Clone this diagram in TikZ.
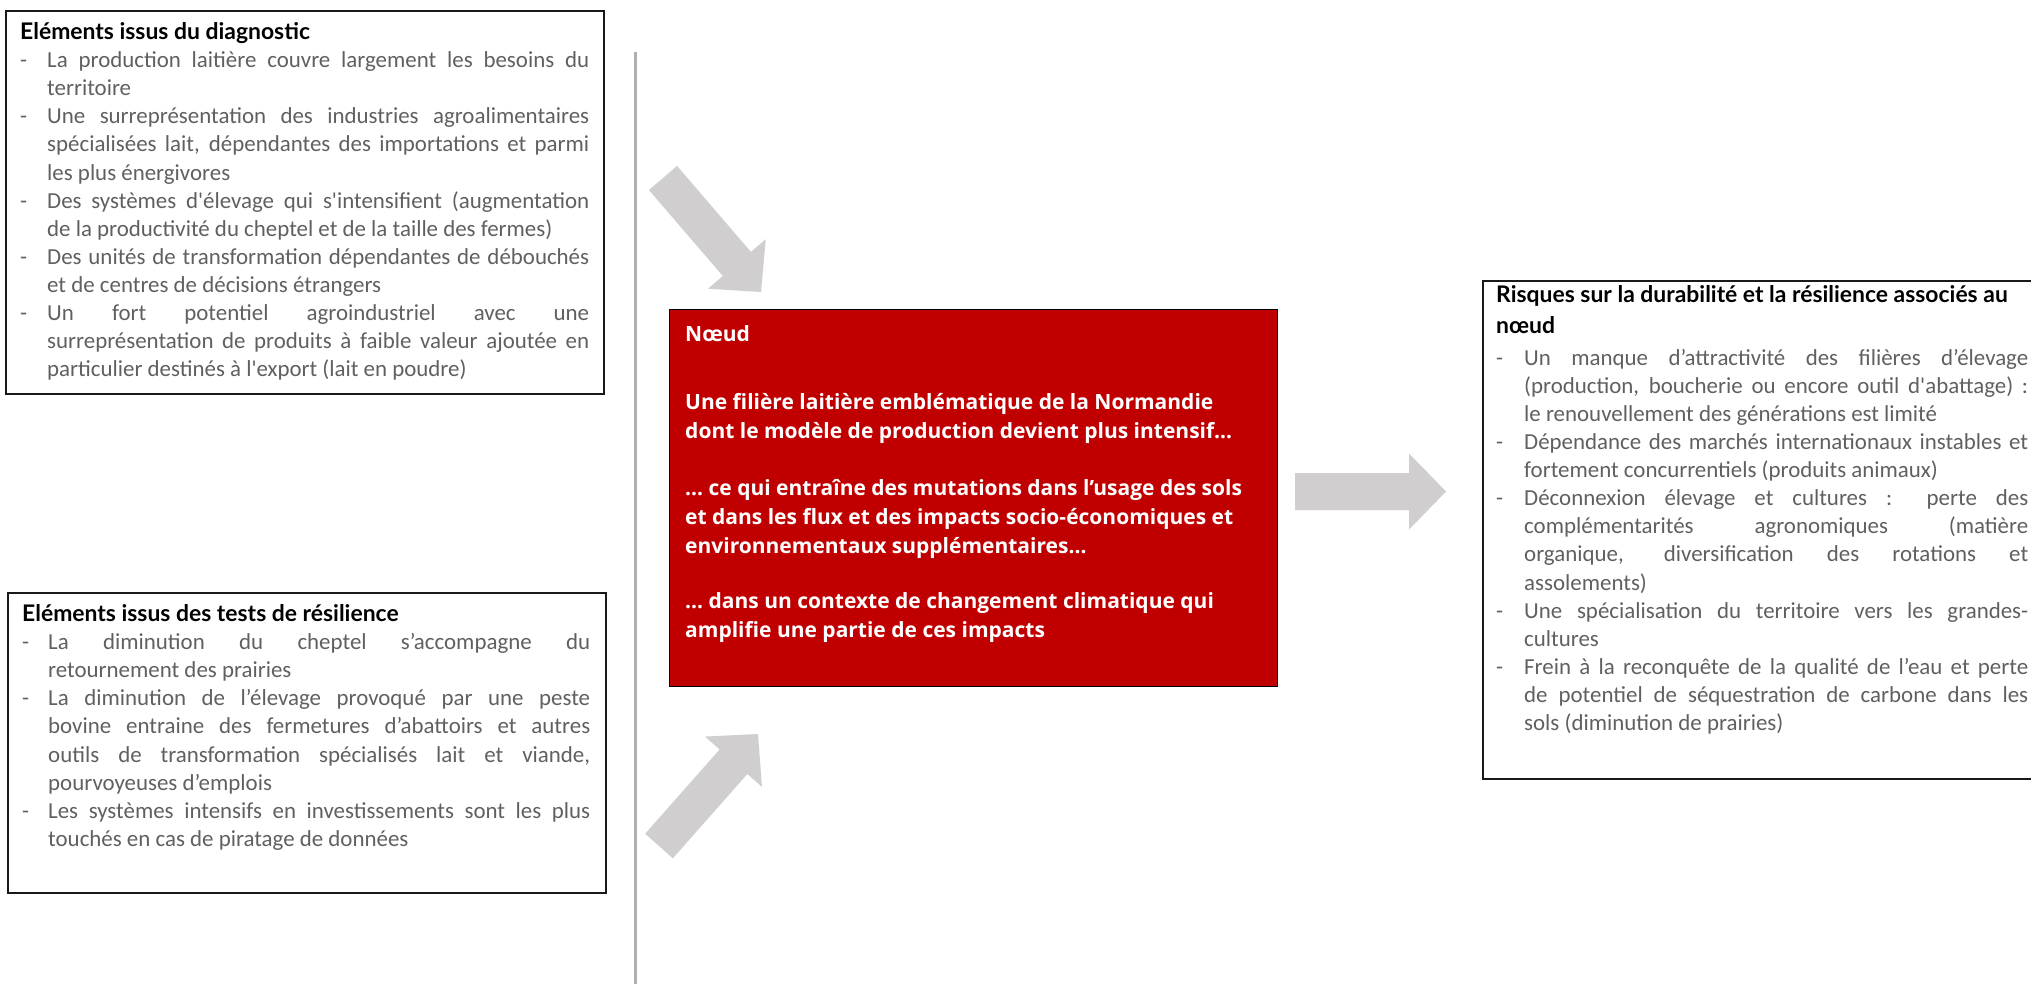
\documentclass[tikz,border=0pt]{standalone}
\usepackage{fontspec}
\usetikzlibrary{calc}

% Fonts: light body text, bold headings, bold white text on the red node
\newfontfamily\bodyfont{Carlito}
\newfontfamily\headfont{Lato}
\newfontfamily\redfont{Open Sans}

\definecolor{bodygray}{RGB}{96,96,96}
\definecolor{arrowgray}{RGB}{208,206,206}
\definecolor{linegray}{RGB}{175,175,175}
\definecolor{noeudred}{RGB}{192,0,0}
\definecolor{framecol}{RGB}{25,25,25}

% Line builders for the bulleted lists (justified or ragged lines)
\newlength\lw
\newlength\hangw
\newcommand\headline[1]{\hbox{\headfont\bfseries\color{black}#1}}
\newcommand\itemJ[1]{\hbox to\lw{\hbox to\hangw{-\hfil}#1}}
\newcommand\itemR[1]{\hbox{\hbox to\hangw{-\hfil}#1}}
\newcommand\contJ[1]{\hbox to\lw{\hskip\hangw #1}}
\newcommand\contR[1]{\hbox{\hskip\hangw #1}}
\newcommand\redline[1]{\hbox{#1}}

% Wide grey block arrow: name, tail centre, tip
\newcommand\blockarrow[3]{%
  \coordinate (#1-base) at ($(#3)!37pt!(#2)$);
  \fill[arrowgray]
    ($(#2)!18.5pt!90:(#3)$) -- ($(#1-base)!18.5pt!90:(#3)$) --
    ($(#1-base)!38pt!90:(#3)$) -- (#3) --
    ($(#1-base)!38pt!-90:(#3)$) -- ($(#1-base)!18.5pt!-90:(#3)$) --
    ($(#2)!18.5pt!-90:(#3)$) -- cycle;}

\begin{document}
\begin{tikzpicture}[x=1pt,y=-1pt,
  framebox/.style={draw=framecol, line width=1.6pt, inner sep=0pt, anchor=north west, fill=white},
  redbox/.style={draw=black, line width=1.4pt, fill=noeudred, inner sep=0pt, anchor=north west},
  textblock/.style={anchor=base west, inner sep=0pt, text=bodygray},
  redtext/.style={anchor=base west, inner sep=0pt, text=white},
  sepline/.style={draw=linegray, line width=3pt}]

\useasboundingbox[fill=white] (0,0) rectangle (2031,983);

% separator line
\coordinate (septop) at (635,52);
\coordinate (sepbot) at (635,990);
\draw[sepline] (septop) -- (sepbot);

% frames
\node[framebox, minimum width=598pt, minimum height=383pt] (diag) at (5,10) {};
\node[framebox, minimum width=598pt, minimum height=300pt] (tests) at (7,592) {};
\node[redbox, minimum width=608pt, minimum height=377pt] (noeud) at (669,309) {};
\node[framebox, minimum width=570pt, minimum height=498pt] (risks) at (1482,280) {};

% diagnostic
\node[textblock] (diagtxt) at (20,39.5) {\vtop{\bodyfont\fontsize{22.9}{28.1}\selectfont
  \lw=569pt \hangw=27pt
  \headline{Eléments issus du diagnostic}
  \itemJ{La production laitière couvre largement les besoins du}
  \contR{territoire}
  \itemJ{Une surreprésentation des industries agroalimentaires}
  \contJ{spécialisées lait, dépendantes des importations et parmi}
  \contR{les plus énergivores}
  \itemJ{Des systèmes d'élevage qui s'intensifient (augmentation}
  \contR{de la productivité du cheptel et de la taille des fermes)}
  \itemJ{Des unités de transformation dépendantes de débouchés}
  \contR{et de centres de décisions étrangers}
  \itemJ{Un fort potentiel agroindustriel avec une}
  \contJ{surreprésentation de produits à faible valeur ajoutée en}
  \contR{particulier destinés à l'export (lait en poudre)}}};

% resilience tests
\node[textblock] (teststxt) at (22,621.5) {\vtop{\bodyfont\fontsize{22.9}{28.1}\selectfont
  \lw=568pt \hangw=26pt
  \headline{Eléments issus des tests de résilience}
  \itemJ{La diminution du cheptel s’accompagne du}
  \contR{retournement des prairies}
  \itemJ{La diminution de l’élevage provoqué par une peste}
  \contJ{bovine entraine des fermetures d’abattoirs et autres}
  \contJ{outils de transformation spécialisés lait et viande,}
  \contR{pourvoyeuses d’emplois}
  \itemJ{Les systèmes intensifs en investissements sont les plus}
  \contR{touchés en cas de piratage de données}}};

% risks
\node[textblock] (riskstxt) at (1496,302) {\vtop{\bodyfont\fontsize{22.9}{28.1}\selectfont
  \lw=532pt \hangw=28pt
  \headline{Risques sur la durabilité et la résilience associés au}
  \vskip3.5pt
  \headline{nœud}
  \vskip3.5pt
  \itemJ{Un manque d’attractivité des filières d’élevage}
  \contJ{(production, boucherie ou encore outil d'abattage) :}
  \contR{le renouvellement des générations est limité}
  \itemJ{Dépendance des marchés internationaux instables et}
  \contR{fortement concurrentiels (produits animaux)}
  \itemJ{Déconnexion élevage et cultures : perte des}
  \contJ{complémentarités agronomiques (matière}
  \contJ{organique, diversification des rotations et}
  \contR{assolements)}
  \itemJ{Une spécialisation du territoire vers les grandes-}
  \contR{cultures}
  \itemJ{Frein à la reconquête de la qualité de l’eau et perte}
  \contJ{de potentiel de séquestration de carbone dans les}
  \contR{sols (diminution de prairies)}}};

% node text
\node[redtext] (noeudtxt) at (685,341) {\vtop{\redfont\bfseries\fontsize{21}{28.8}\selectfont
  \redline{Nœud}
  \vskip40pt
  \redline{Une filière laitière emblématique de la Normandie}
  \redline{dont le modèle de production devient plus intensif…}
  \vskip28pt
  \redline{… ce qui entraîne des mutations dans l’usage des sols}
  \redline{et dans les flux et des impacts socio-économiques et}
  \redline{environnementaux supplémentaires…}
  \vskip27pt
  \redline{… dans un contexte de changement climatique qui}
  \redline{amplifie une partie de ces impacts}}};

% arrows
\coordinate (inA-tail) at (663,178);
\coordinate (inA-tip) at (761,292);
\coordinate (inB-tail) at (659,846);
\coordinate (inB-tip) at (758,734);
\coordinate (out-tail) at (1295,491.5);
\coordinate (out-tip) at (1446,491.5);
\blockarrow{inA}{inA-tail}{inA-tip}
\blockarrow{inB}{inB-tail}{inB-tip}
\blockarrow{out}{out-tail}{out-tip}

\end{tikzpicture}
\end{document}
